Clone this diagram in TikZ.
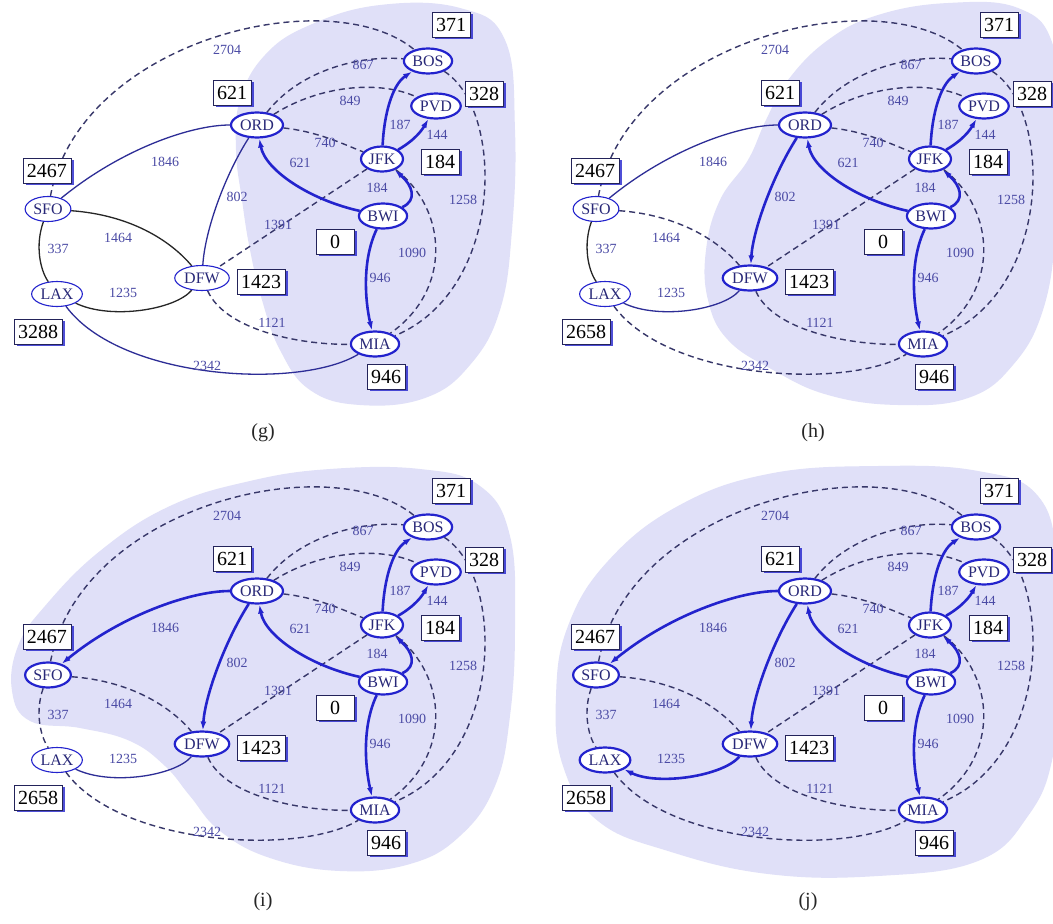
\documentclass[tikz,border=0pt]{standalone}
\usepackage{fontspec}
\setmainfont{Liberation Serif}
\usetikzlibrary{shapes.geometric,arrows.meta,shadows}
\pgfdeclarelayer{cloudlayer}
\pgfdeclarelayer{edgelayer}
\pgfsetlayers{cloudlayer,edgelayer,main}
\definecolor{treeblue}{RGB}{35,35,205}
\definecolor{nodetxt}{RGB}{40,40,120}
\definecolor{labcol}{RGB}{75,75,165}
\definecolor{dashcol}{RGB}{55,55,105}
\definecolor{solidblue}{RGB}{45,45,150}
\definecolor{boxcol}{RGB}{35,35,90}
\definecolor{cloudcol}{RGB}{224,224,248}
\tikzset{
  cityn/.style={ellipse, draw=treeblue, fill=white, text=nodetxt,
    font=\fontsize{16}{16}\selectfont, inner xsep=1.5pt, inner ysep=0pt, minimum height=25pt},
  cloudn/.style={cityn, line width=2.2pt},
  outn/.style={cityn, line width=1.1pt},
  tree/.style={draw=treeblue, line width=2.6pt, -{Latex[length=9pt,width=6pt]}},
  dashedge/.style={draw=dashcol, line width=1.4pt, dash pattern=on 6pt off 4pt},
  bluesolid/.style={draw=solidblue, line width=1.3pt},
  blacksolid/.style={draw=black!85, line width=1.3pt},
  wlab/.style={text=labcol, font=\fontsize{14}{14}\selectfont, inner sep=0pt},
  distbox/.style={draw=boxcol, fill=white, line width=1pt, text=black,
    font=\fontsize{20}{20}\selectfont, inner xsep=4pt, inner ysep=2pt,
    minimum height=25pt, minimum width=38pt,
    drop shadow={shadow xshift=2.5pt, shadow yshift=-1pt, fill=treeblue, opacity=.8}},
  plab/.style={font=\fontsize{20}{20}\selectfont, text=black!85},
  cloudfill/.style={fill=cloudcol}
}
\newcommand\airgraph[1]{%
  \node[cloudn] (BOS) at (428,61) {BOS};
  \node[cloudn] (PVD) at (436,106) {PVD};
  \node[cloudn] (ORD) at (257,125) {ORD};
  \node[cloudn] (JFK) at (382,159) {JFK};
  \node[cloudn] (BWI) at (383,216) {BWI};
  \node[cloudn] (MIA) at (375,344) {MIA};
  \node[nSFO] (SFO) at (48,209) {SFO};
  \node[nLAX] (LAX) at (57,294) {LAX};
  \node[nDFW] (DFW) at (202,278) {DFW};
  \begin{pgfonlayer}{edgelayer}
    \draw[dashedge] (SFO) .. controls (80,40) and (330,-20) .. (BOS);
    \draw[dashedge] (ORD) .. controls (300,70) and (360,55) .. (BOS);
    \draw[dashedge] (ORD) .. controls (320,85) and (380,80) .. (PVD);
    \draw[dashedge] (ORD) .. controls (320,132) and (345,145) .. (JFK);
    \draw[dashedge] (JFK) -- (DFW);
    \draw[dashedge] (JFK) .. controls (448,210) and (452,290) .. (MIA);
    \draw[dashedge] (BOS) .. controls (505,110) and (505,290) .. (MIA);
    \draw[dashedge] (DFW) .. controls (225,330) and (300,345) .. (MIA);
    \draw[tree] (BWI) .. controls (310,200) and (265,170) .. (ORD);
    \draw[tree] (BWI) .. controls (418,200) and (412,185) .. (JFK);
    \draw[tree] (JFK) .. controls (384,115) and (392,85) .. (BOS);
    \draw[tree] (JFK) .. controls (415,140) and (422,130) .. (PVD);
    \draw[tree] (BWI) .. controls (362,260) and (365,300) .. (MIA);
    \draw[e802] (ORD) .. controls (225,175) and (205,230) .. (DFW);
    \draw[e1846] (ORD) .. controls (190,125) and (120,150) .. (SFO);
    \draw[e2342] (LAX) .. controls (120,380) and (300,390) .. (MIA);
    \draw[e1464] (SFO) .. controls (130,215) and (170,240) .. (DFW);
    \draw[e337] (SFO) .. controls (35,245) and (40,270) .. (LAX);
    \draw[e1235] (DFW) .. controls (175,310) and (110,320) .. (LAX);
  \end{pgfonlayer}
  \node[wlab] (l2704) at (227,50) {2704};
  \node[wlab] (l867) at (363,65) {867};
  \node[wlab] (l849) at (350,101) {849};
  \node[wlab] (l187) at (400,125) {187};
  \node[wlab] (l144) at (437,135) {144};
  \node[wlab] (l740) at (325,143) {740};
  \node[wlab] (l621) at (300,163) {621};
  \node[wlab] (l1846) at (165,162) {1846};
  \node[wlab] (l184) at (377,188) {184};
  \node[wlab] (l802) at (237,197) {802};
  \node[wlab] (l1258) at (463,200) {1258};
  \node[wlab] (l1391) at (278,225) {1391};
  \node[wlab] (l1464) at (118,238) {1464};
  \node[wlab] (l337) at (58,249) {337};
  \node[wlab] (l1090) at (412,253) {1090};
  \node[wlab] (l946) at (380,278) {946};
  \node[wlab] (l1235) at (123,293) {1235};
  \node[wlab] (l1121) at (272,323) {1121};
  \node[wlab] (l2342) at (207,366) {2342};
  \node[distbox] (b371) at (451,25) {371};
  \node[distbox] (b328) at (484,94) {328};
  \node[distbox] (b621) at (232,93) {621};
  \node[distbox] (b184) at (440,162) {184};
  \node[distbox] (b0) at (335,242) {0};
  \node[distbox] (b2467) at (47,171) {2467};
  \node[distbox] (b1423) at (261,282) {1423};
  \node[distbox] (bLAX) at (38,332) {#1};
  \node[distbox] (b946) at (386,377) {946};
}
\begin{document}
\begin{tikzpicture}[x=1pt,y=-1pt]
\begin{pgfonlayer}{cloudlayer}
  \fill[white] (0,0) rectangle (1053,924);
\end{pgfonlayer}
\useasboundingbox (0,0) rectangle (1053,924);
% panel g
\begin{scope}[name prefix=g-, nSFO/.style={outn}, nLAX/.style={outn}, nDFW/.style={outn},
  e802/.style={bluesolid}, e1846/.style={bluesolid}, e2342/.style={bluesolid},
  e1464/.style={blacksolid}, e337/.style={blacksolid}, e1235/.style={blacksolid}]
  \begin{pgfonlayer}{cloudlayer}
    \fill[cloudfill] plot[smooth cycle, tension=0.7] coordinates {(310,25) (380,5) (460,8) (505,40) (515,130) (512,230) (500,310) (470,365) (425,398) (360,405) (310,390) (280,350) (262,300) (250,250) (242,200) (236,150) (240,100) (265,55)};
  \end{pgfonlayer}
  \airgraph{3288}
\end{scope}
% panel h
\begin{scope}[shift={(548,0)}, name prefix=h-, nSFO/.style={outn}, nLAX/.style={outn}, nDFW/.style={cloudn},
  e802/.style={tree}, e1846/.style={bluesolid}, e2342/.style={dashedge},
  e1464/.style={dashedge}, e337/.style={blacksolid}, e1235/.style={bluesolid}]
  \begin{pgfonlayer}{cloudlayer}
    \fill[cloudfill] plot[smooth cycle, tension=0.7] coordinates {(330,15) (400,3) (470,8) (505,45) (512,130) (508,230) (495,310) (465,365) (420,398) (350,405) (280,395) (225,370) (180,340) (160,300) (158,250) (172,200) (200,160) (218,120) (240,80) (280,40)};
  \end{pgfonlayer}
  \airgraph{2658}
\end{scope}
% panel i
\begin{scope}[shift={(0,466)}, name prefix=i-, nSFO/.style={cloudn}, nLAX/.style={outn}, nDFW/.style={cloudn},
  e802/.style={tree}, e1846/.style={tree}, e2342/.style={dashedge},
  e1464/.style={dashedge}, e337/.style={dashedge}, e1235/.style={bluesolid}]
  \begin{pgfonlayer}{cloudlayer}
    \fill[cloudfill] plot[smooth cycle, tension=0.7] coordinates {(250,15) (330,3) (420,3) (480,20) (510,70) (515,160) (510,250) (495,320) (460,370) (410,398) (340,405) (270,392) (220,365) (190,330) (165,300) (130,275) (80,262) (30,255) (12,225) (18,180) (45,140) (100,85) (170,40)};
  \end{pgfonlayer}
  \airgraph{2658}
\end{scope}
% panel j
\begin{scope}[shift={(548,466)}, name prefix=j-, nSFO/.style={cloudn}, nLAX/.style={cloudn}, nDFW/.style={cloudn},
  e802/.style={tree}, e1846/.style={tree}, e2342/.style={dashedge},
  e1464/.style={dashedge}, e337/.style={dashedge}, e1235/.style={tree}]
  \begin{pgfonlayer}{cloudlayer}
    \fill[cloudfill] plot[smooth cycle, tension=0.7] coordinates {(220,8) (330,0) (430,5) (490,30) (510,100) (512,200) (505,290) (480,350) (430,395) (330,410) (220,408) (120,385) (50,355) (15,300) (8,230) (20,160) (60,95) (130,40)};
  \end{pgfonlayer}
  \airgraph{2658}
\end{scope}
\node[plab] (capg) at (263,433) {(g)};
\node[plab] (caph) at (813,433) {(h)};
\node[plab] (capi) at (263,902) {(i)};
\node[plab] (capj) at (808,902) {(j)};
\end{tikzpicture}
\end{document}
